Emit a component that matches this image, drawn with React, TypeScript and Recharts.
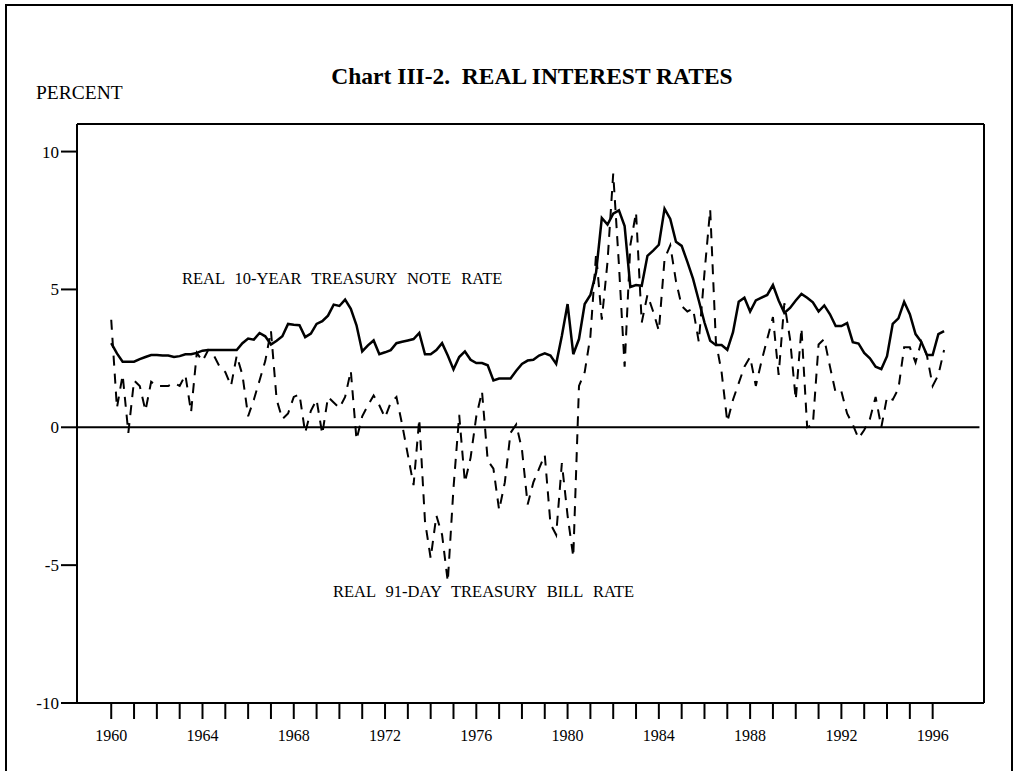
import { LineChart, Line, XAxis, YAxis, ReferenceLine } from "recharts";

const SERIF = "'Liberation Serif', 'Times New Roman', serif";

const START_YEAR = 1960;

// real 10-year treasury note rate, quarterly from 1960Q1
const noteRate = [
  3.05, 2.68, 2.38, 2.38, // 1960
  2.38, 2.47, 2.55, 2.62, // 1961
  2.62, 2.6, 2.6, 2.55, // 1962
  2.58, 2.65, 2.65, 2.7, // 1963
  2.78, 2.8, 2.8, 2.8, // 1964
  2.8, 2.8, 2.8, 3.05, // 1965
  3.22, 3.18, 3.42, 3.3, // 1966
  3.0, 3.14, 3.3, 3.75, // 1967
  3.72, 3.7, 3.27, 3.4, // 1968
  3.75, 3.85, 4.05, 4.45, // 1969
  4.4, 4.63, 4.3, 3.7, // 1970
  2.75, 2.97, 3.15, 2.65, // 1971
  2.72, 2.8, 3.05, 3.1, // 1972
  3.15, 3.2, 3.42, 2.65, // 1973
  2.65, 2.8, 3.05, 2.6, // 1974
  2.1, 2.55, 2.75, 2.45, // 1975
  2.33, 2.33, 2.25, 1.7, // 1976
  1.77, 1.77, 1.77, 2.05, // 1977
  2.3, 2.42, 2.45, 2.6, // 1978
  2.68, 2.6, 2.3, 3.32, // 1979
  4.47, 2.65, 3.2, 4.47, // 1980
  4.8, 5.62, 7.59, 7.35, // 1981
  7.75, 7.87, 7.3, 5.09, // 1982
  5.16, 5.13, 6.22, 6.41, // 1983
  6.62, 7.93, 7.56, 6.73, // 1984
  6.58, 6.0, 5.38, 4.6, // 1985
  3.8, 3.14, 2.98, 2.98, // 1986
  2.81, 3.45, 4.55, 4.7, // 1987
  4.2, 4.6, 4.7, 4.8, // 1988
  5.16, 4.6, 4.15, 4.33, // 1989
  4.6, 4.84, 4.7, 4.53, // 1990
  4.2, 4.42, 4.1, 3.67, // 1991
  3.67, 3.78, 3.09, 3.04, // 1992
  2.7, 2.5, 2.2, 2.11, // 1993
  2.58, 3.75, 3.95, 4.55, // 1994
  4.1, 3.38, 3.1, 2.62, // 1995
  2.62, 3.38, 3.49, // 1996
];

// real 91-day treasury bill rate, quarterly from 1960Q1
const billRate = [
  3.9, 0.7, 1.9, -0.2, // 1960
  1.7, 1.5, 0.6, 1.65, // 1961
  1.5, 1.5, 1.5, 1.6, // 1962
  1.5, 1.9, 0.55, 2.7, // 1963
  2.4, 2.8, 2.6, 2.2, // 1964
  2.0, 1.5, 2.6, 1.9, // 1965
  0.4, 1.0, 1.7, 2.4, // 1966
  3.5, 1.0, 0.3, 0.5, // 1967
  1.1, 1.2, -0.2, 0.6, // 1968
  1.0, -0.25, 1.1, 0.9, // 1969
  0.7, 1.1, 2.05, -0.45, // 1970
  0.4, 0.8, 1.15, 0.8, // 1971
  0.35, 0.9, 1.1, 0.1, // 1972
  -1.0, -2.1, 0.3, -3.4, // 1973
  -4.75, -3.2, -3.9, -5.6, // 1974
  -2.2, 0.45, -2.0, -1.1, // 1975
  0.4, 1.3, -1.2, -1.5, // 1976
  -3.0, -2.0, -0.2, 0.1, // 1977
  -0.8, -2.8, -2.0, -1.5, // 1978
  -1.0, -3.5, -3.9, -1.3, // 1979
  -3.2, -4.7, 1.5, 2.0, // 1980
  3.3, 6.3, 3.9, 6.0, // 1981
  9.2, 5.9, 2.2, 6.6, // 1982
  7.8, 3.8, 4.8, 4.2, // 1983
  3.5, 6.1, 6.6, 5.3, // 1984
  4.4, 4.2, 4.3, 3.1, // 1985
  5.6, 7.9, 3.1, 2.0, // 1986
  0.2, 1.0, 1.6, 2.2, // 1987
  2.55, 1.5, 2.4, 3.2, // 1988
  4.0, 1.9, 4.5, 3.2, // 1989
  1.0, 3.6, 0.0, 0.1, // 1990
  3.0, 3.2, 2.2, 1.25, // 1991
  1.3, 0.5, 0.1, -0.4, // 1992
  -0.1, 0.3, 1.1, 0.0, // 1993
  1.1, 1.0, 1.4, 2.9, // 1994
  2.9, 2.35, 3.1, 2.6, // 1995
  1.5, 1.9, 2.8, // 1996
];

const yearTicks = [
  1960, 1961, 1962, 1963, 1964, 1965, 1966, 1967, 1968, 1969, 1970, 1971,
  1972, 1973, 1974, 1975, 1976, 1977, 1978, 1979, 1980, 1981, 1982, 1983,
  1984, 1985, 1986, 1987, 1988, 1989, 1990, 1991, 1992, 1993, 1994, 1995,
  1996,
];
const labelEvery = 4;
const valueTicks = [-10, -5, 0, 5, 10];

const X_MIN = 1958.5;
const X_MAX = 1998.25;
const Y_MIN = -10;
const Y_MAX = 11;

const data = noteRate.map((note, i) => ({
  t: START_YEAR + i / 4,
  note,
  bill: billRate[i],
}));

const label = (top: number, left: number, size: number, bold = false) => ({
  position: "absolute" as const,
  top,
  left,
  fontFamily: SERIF,
  fontSize: size,
  fontWeight: bold ? 700 : 400,
  lineHeight: 1,
  whiteSpace: "pre" as const,
  color: "#000",
});

export default function App() {
  return (
    <div
      style={{
        position: "absolute",
        left: 0,
        top: 0,
        width: 1013,
        height: 771,
        overflow: "hidden",
        background: "#fff",
      }}
    >
      <div
        style={{
          position: "absolute",
          left: 5,
          top: 4,
          width: 1004,
          height: 820,
          border: "2px solid #000",
        }}
      />
      <LineChart
        width={1013}
        height={771}
        data={data}
        margin={{ top: 124, right: 29, bottom: 28, left: 17 }}
        style={{ position: "absolute", left: 0, top: 0 }}
      >
        <XAxis
          dataKey="t"
          type="number"
          domain={[X_MIN, X_MAX]}
          ticks={yearTicks}
          interval={0}
          height={40}
          tickSize={16}
          tickMargin={11}
          allowDataOverflow
          axisLine={{ stroke: "#000", strokeWidth: 2 }}
          tickLine={{ stroke: "#000", strokeWidth: 2 }}
          tick={{ fill: "#000", fontSize: 16, fontFamily: SERIF }}
          tickFormatter={(v: number) => (v % labelEvery === 0 ? String(v) : "")}
        />
        <YAxis
          type="number"
          domain={[Y_MIN, Y_MAX]}
          ticks={valueTicks}
          interval={0}
          width={60}
          tickSize={16}
          tickMargin={2}
          allowDataOverflow
          axisLine={{ stroke: "#000", strokeWidth: 2 }}
          tickLine={{ stroke: "#000", strokeWidth: 2 }}
          tick={{ fill: "#000", fontSize: 17, fontFamily: SERIF }}
        />
        <ReferenceLine y={Y_MAX} stroke="#000" strokeWidth={2} />
        <ReferenceLine x={X_MAX} stroke="#000" strokeWidth={2} />
        <ReferenceLine
          segment={[
            { x: X_MIN, y: 0 },
            { x: 1998.05, y: 0 },
          ]}
          stroke="#000"
          strokeWidth={2}
        />
        <Line
          type="linear"
          dataKey="note"
          stroke="#000"
          strokeWidth={2.5}
          dot={false}
          isAnimationActive={false}
        />
        <Line
          type="linear"
          dataKey="bill"
          stroke="#000"
          strokeWidth={2}
          strokeDasharray="10 8"
          dot={false}
          isAnimationActive={false}
        />
      </LineChart>
      <div style={{ ...label(65, 232, 23.5, true), width: 600, textAlign: "center" }}>
        {"Chart III-2.  REAL INTEREST RATES"}
      </div>
      <div style={label(83, 36, 19.5)}>PERCENT</div>
      <div style={{ ...label(271, 182, 16.5), wordSpacing: 6 }}>
        REAL 10-YEAR TREASURY NOTE RATE
      </div>
      <div style={{ ...label(584, 333, 16.5), wordSpacing: 6 }}>
        REAL 91-DAY TREASURY BILL RATE
      </div>
    </div>
  );
}
